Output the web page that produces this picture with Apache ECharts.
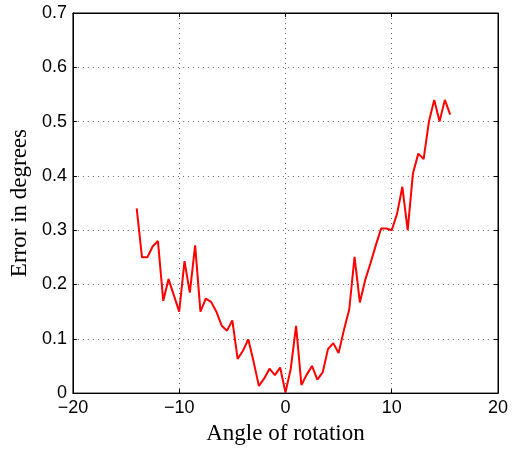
<!DOCTYPE html>
<html>
<head>
<meta charset="utf-8">
<script src="https://cdn.jsdelivr.net/npm/echarts@6/dist/echarts.min.js"></script>
<style>
html,body{margin:0;padding:0;background:#fff;}
#c{width:513px;height:450px;}
</style>
</head>
<body>
<div id="c"></div>
<script>
// Data
const angles = [-14,-13.5,-13,-12.5,-12,-11.5,-11,-10.5,-10,-9.5,-9,-8.5,-8,-7.5,-7,-6.5,-6,-5.5,-5,-4.5,-4,-3.5,-3,-2.5,-2,-1.5,-1,-0.5,0,0.5,1,1.5,2,2.5,3,3.5,4,4.5,5,5.5,6,6.5,7,7.5,8,8.5,9,9.5,10,10.5,11,11.5,12,12.5,13,13.5,14,14.5,15,15.5];
const errors = [0.34,0.25,0.25,0.27,0.28,0.17,0.21,0.18,0.15,0.243,0.185,0.272,0.15,0.174,0.168,0.15,0.124,0.115,0.134,0.063,0.078,0.099,0.058,0.013,0.027,0.045,0.033,0.047,0.001,0.045,0.124,0.015,0.034,0.05,0.025,0.038,0.081,0.092,0.074,0.116,0.154,0.251,0.167,0.208,0.239,0.272,0.303,0.303,0.30,0.33,0.38,0.30,0.405,0.441,0.431,0.50,0.54,0.50,0.54,0.513];
const xTicks = [-20,-10,0,10,20];
const yTicks = [0,0.1,0.2,0.3,0.4,0.5,0.6,0.7];
const xTitle = 'Angle of rotation';
const yTitle = 'Error in degrees';

const pts = angles.map((a,i)=>[a,errors[i]]);
const tickFont = {fontFamily:'Liberation Sans', fontSize:18, color:'#000'};
const dotted = {show:true, lineStyle:{color:'#666', type:[1,4], width:1}};
const fmtX = v => String(v).replace('-', '\u2212');
const fmtY = v => String(+v.toFixed(1));

const chart = echarts.init(document.getElementById('c'), null, {renderer:'canvas'});
chart.setOption({
  animation:false,
  backgroundColor:'#fff',
  grid:{left:71, right:15, top:13, bottom:52, show:true, borderColor:'#000', borderWidth:1, backgroundColor:'transparent'},
  xAxis:[{
    type:'value', min:xTicks[0], max:xTicks[xTicks.length-1], interval:10, position:'bottom',
    axisLine:{show:true, onZero:false, lineStyle:{color:'#000', width:1}},
    axisTick:{show:true, inside:true, length:4, lineStyle:{color:'#000'}},
    axisLabel:{...tickFont, margin:6, formatter:fmtX},
    splitLine:dotted,
    name:xTitle, nameLocation:'middle', nameGap:24,
    nameTextStyle:{fontFamily:'Liberation Serif', fontSize:23, color:'#000'}
  },{
    type:'value', min:xTicks[0], max:xTicks[xTicks.length-1], interval:10, position:'top',
    axisLine:{show:true, onZero:false, lineStyle:{color:'#000', width:1}},
    axisTick:{show:true, inside:true, length:4, lineStyle:{color:'#000'}},
    axisLabel:{show:false}, splitLine:{show:false}
  }],
  yAxis:[{
    type:'value', min:yTicks[0], max:yTicks[yTicks.length-1], interval:0.1, position:'left',
    axisLine:{show:true, onZero:false, lineStyle:{color:'#000', width:1}},
    axisTick:{show:true, inside:true, length:4, lineStyle:{color:'#000'}},
    axisLabel:{...tickFont, margin:6, formatter:fmtY},
    splitLine:dotted,
    name:yTitle, nameLocation:'middle', nameGap:32,
    nameTextStyle:{fontFamily:'Liberation Serif', fontSize:23, color:'#000'}
  },{
    type:'value', min:yTicks[0], max:yTicks[yTicks.length-1], interval:0.1, position:'right',
    axisLine:{show:true, onZero:false, lineStyle:{color:'#000', width:1}},
    axisTick:{show:true, inside:true, length:4, lineStyle:{color:'#000'}},
    axisLabel:{show:false}, splitLine:{show:false}
  }],
  series:[{
    type:'line', data:pts, xAxisIndex:0, yAxisIndex:0,
    showSymbol:false, symbol:'none',
    lineStyle:{color:'#ff0000', width:2},
    clip:true
  }]
});
</script>
</body>
</html>
